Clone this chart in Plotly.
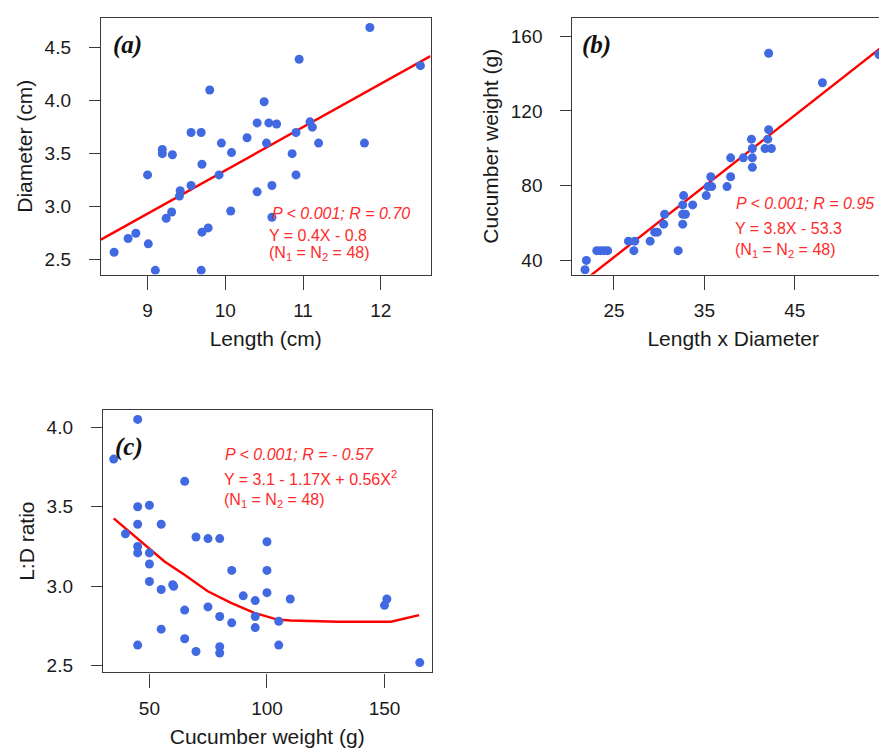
import plotly.graph_objects as go

# ---------- Panel (a): Length vs Diameter ----------
a_length = [8.57, 8.75, 8.85, 9.01, 9.10, 9.00, 9.19, 9.19, 9.32, 9.24, 9.31, 9.41, 9.42,
            9.56, 9.56, 9.69, 9.70, 9.70, 9.78, 9.69, 9.80, 9.92, 9.95, 10.07, 10.08,
            10.28, 10.41, 10.41, 10.50, 10.53, 10.56, 10.66, 10.60, 10.60, 10.86, 10.91,
            10.91, 10.95, 11.09, 11.12, 11.20, 11.79, 11.86, 12.51]
a_diameter = [2.57, 2.70, 2.75, 2.65, 2.40, 3.30, 3.54, 3.50, 3.49, 2.89, 2.95, 3.10, 3.15,
              3.20, 3.70, 3.70, 3.40, 2.76, 2.80, 2.40, 4.10, 3.30, 3.60, 2.96, 3.51,
              3.65, 3.79, 3.14, 3.99, 3.60, 3.79, 3.78, 3.20, 2.90, 3.50, 3.70,
              3.30, 4.39, 3.80, 3.75, 3.60, 3.60, 4.69, 4.33]
a_fit_x = [8.40, 12.64]
a_fit_y = [2.69, 4.42]

# ---------- Panel (b): Length x Diameter vs weight ----------
b_ld = [21.8, 21.95, 23.1, 23.5, 23.9, 24.3, 26.6, 27.3, 27.2, 29.0, 29.5, 29.8, 30.5, 30.6,
        32.1, 32.6, 32.6, 32.6, 32.7, 32.9, 33.7, 35.2, 35.4, 35.7, 35.8, 37.5, 37.9, 37.9,
        39.3, 40.2, 40.3, 40.3, 40.3, 41.7, 42.0, 42.1, 42.4, 42.1, 48.05, 54.3, 55.5]
b_weight = [35.0, 40.0, 45.2, 45.2, 45.2, 45.2, 50.3, 50.3, 45.2, 50.3, 55.1, 55.1, 59.4, 64.7,
            45.2, 59.4, 64.7, 69.7, 74.7, 64.7, 69.7, 74.7, 79.5, 84.8, 79.5, 79.5, 84.8, 94.9,
            94.9, 104.9, 99.9, 94.9, 89.8, 99.9, 104.9, 110.0, 99.9, 150.9, 135.1, 150.2, 165.2]
b_fit_x = [21.5, 56.0]
b_fit_y = [28.4, 159.5]

# ---------- Panel (c): weight vs L:D ratio ----------
c_weight = [34.8, 45.0, 39.8, 45.0, 45.0, 45.0, 45.0, 45.0, 50.0, 50.0, 50.0, 50.0, 55.0, 55.0,
            55.0, 59.9, 60.3, 65.0, 65.0, 65.0, 69.8, 69.8, 74.9, 74.9, 79.9, 79.9, 79.9, 79.9,
            85.0, 85.0, 89.9, 95.0, 95.0, 95.0, 100.0, 100.0, 100.0, 105.0, 105.0, 109.9,
            150.0, 151.0, 165.0]
c_ratio = [3.80, 4.05, 3.33, 3.50, 3.39, 3.25, 3.21, 2.63, 3.51, 3.21, 3.14, 3.03, 3.39, 2.98,
           2.73, 3.01, 3.00, 3.66, 2.85, 2.67, 3.31, 2.59, 3.30, 2.87, 3.30, 2.81, 2.62, 2.58,
           3.10, 2.77, 2.94, 2.91, 2.81, 2.74, 3.28, 3.10, 2.96, 2.78, 2.63, 2.92,
           2.88, 2.92, 2.52]
c_fit_x = [34.8, 42.2, 50.0, 56.4, 64.9, 74.8, 84.7, 94.6, 104.5, 110.2, 130.0, 152.7, 164.7]
c_fit_y = [3.427, 3.333, 3.24, 3.156, 3.073, 2.969, 2.896, 2.833, 2.79, 2.785, 2.777, 2.777, 2.819]

a_xticks = [9, 10, 11, 12]
a_yticks = [2.5, 3.0, 3.5, 4.0, 4.5]
b_xticks = [25, 35, 45, 55]
b_yticks = [40, 80, 120, 160]
c_xticks = [50, 100, 150]
c_yticks = [2.5, 3.0, 3.5, 4.0]

BLUE = "#4169E1"
RED = "#FF0000"
TXT_RED = "#FF2A2A"
FONT = "Arial, Liberation Sans, sans-serif"
SERIF = "Times New Roman, Liberation Serif, serif"

W, H = 887, 749

fig = go.Figure()

def add_panel(xs, ys, fx, fy, xa, ya):
    fig.add_trace(go.Scatter(x=fx, y=fy, mode="lines", line=dict(color=RED, width=2.4),
                             xaxis=xa, yaxis=ya, showlegend=False, hoverinfo="skip"))
    fig.add_trace(go.Scatter(x=xs, y=ys, mode="markers",
                             marker=dict(color=BLUE, size=9, line=dict(width=0)),
                             xaxis=xa, yaxis=ya, showlegend=False))

add_panel(a_length, a_diameter, a_fit_x, a_fit_y, "x", "y")
add_panel(b_ld, b_weight, b_fit_x, b_fit_y, "x2", "y2")
add_panel(c_weight, c_ratio, c_fit_x, c_fit_y, "x3", "y3")

def ax(domain, rng, ticks, title, anchor, fmt=None, is_x=True):
    d = dict(domain=domain, range=rng, tickvals=ticks,
             ticktext=[fmt.format(t) for t in ticks] if fmt else None,
             showgrid=False, zeroline=False, showline=True, mirror=True,
             linecolor="#3a3a3a", linewidth=1.2,
             ticks="outside", ticklen=14 if is_x else 11, tickwidth=1.2, tickcolor="#3a3a3a",
             ticklabelstandoff=5 if is_x else 14,
             tickfont=dict(family=FONT, size=19, color="#1a1a1a"),
             title=dict(text=title, font=dict(family=FONT, size=21, color="#1a1a1a"),
                        standoff=10 if is_x else 6),
             anchor=anchor)
    return d

fy1 = lambda py: 1 - py / H
fx1 = lambda px: px / W

fig.update_layout(
    width=W, height=H, margin=dict(l=0, r=0, t=0, b=0),
    plot_bgcolor="white", paper_bgcolor="white",
    xaxis=ax([fx1(93), fx1(423)], [8.40, 12.64], a_xticks, "Length (cm)", "y"),
    yaxis=ax([fy1(268), fy1(10)], [2.36, 4.78], a_yticks, "Diameter (cm)", "x", "{:.1f}", False),
    xaxis2=ax([fx1(565), 1.0], [20.4, 55.96], b_xticks, "Length x Diameter", "y2"),
    yaxis2=ax([fy1(268), fy1(10)], [32.4, 169.8], b_yticks, "Cucumber weight (g)", "x2", None, False),
    xaxis3=ax([fx1(95), fx1(424)], [30.2, 170.0], c_xticks, "Cucumber weight (g)", "y3"),
    yaxis3=ax([fy1(668), fy1(404)], [2.458, 4.11], c_yticks, "L:D ratio", "x3", "{:.1f}", False),
)

def note(text, x, y, xref, yref, color=TXT_RED, size=16, family=FONT, xanchor="left"):
    fig.add_annotation(text=text, x=x, y=y, xref=xref, yref=yref, showarrow=False,
                       xanchor=xanchor, yanchor="middle",
                       font=dict(family=family, size=size, color=color))

# panel labels
note("<b><i>(a)</i></b>", 0.03, 0.895, "x domain", "y domain", color="#111", size=25, family=SERIF)
note("<b><i>(b)</i></b>", 0.025, 0.895, "x2 domain", "y2 domain", color="#111", size=25, family=SERIF)
note("<b><i>(c)</i></b>", 0.03, 0.86, "x3 domain", "y3 domain", color="#111", size=25, family=SERIF)

# panel (a) stats
note("<i>P < 0.001; R = 0.70</i>", fx1(262), fy1(207), "paper", "paper")
note("Y = 0.4X - 0.8", fx1(259), fy1(229), "paper", "paper")
note("(N<sub>1</sub> = N<sub>2</sub> = 48)", fx1(259), fy1(247), "paper", "paper")

# panel (b) stats
note("<i>P < 0.001; R = 0.95</i>", fx1(727), fy1(197), "paper", "paper")
note("Y = 3.8X - 53.3", fx1(726), fy1(222), "paper", "paper")
note("(N<sub>1</sub> = N<sub>2</sub> = 48)", fx1(726), fy1(244), "paper", "paper")

# panel (c) stats
note("<i>P < 0.001; R = - 0.57</i>", fx1(215), fy1(449), "paper", "paper")
note("Y = 3.1 - 1.17X + 0.56X<sup>2</sup>", fx1(214), fy1(473), "paper", "paper")
note("(N<sub>1</sub> = N<sub>2</sub> = 48)", fx1(214), fy1(495), "paper", "paper")

fig.write_html("out.html")
